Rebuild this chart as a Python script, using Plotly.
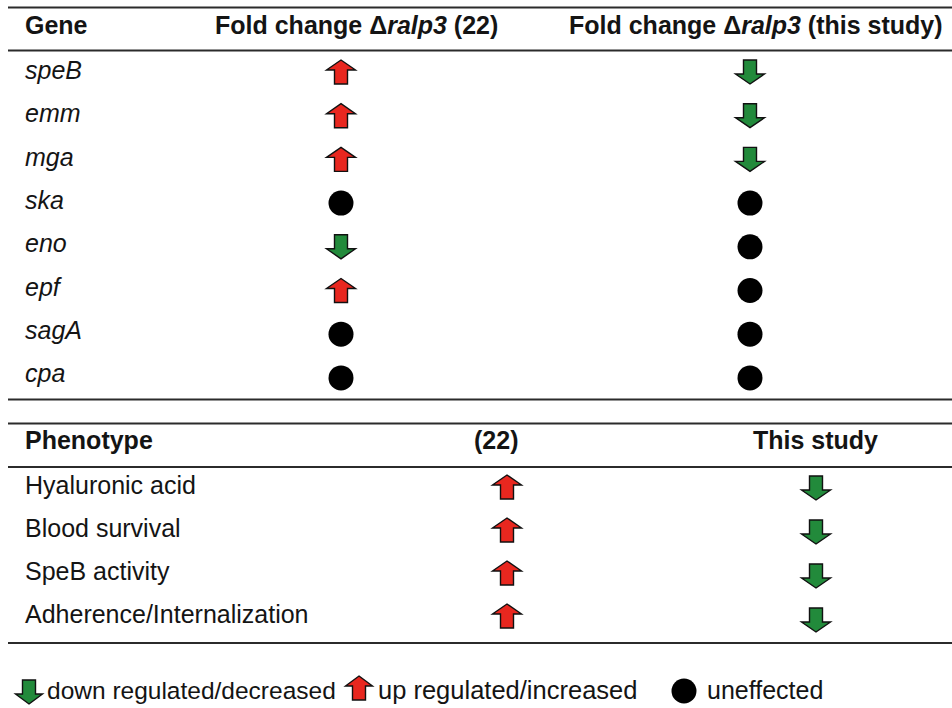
import plotly.graph_objects as go

# ---------------- data ----------------
genes = ["speB", "emm", "mga", "ska", "eno", "epf", "sagA", "cpa"]
gene_ref22 = ["up", "up", "up", "none", "down", "up", "none", "none"]
gene_this = ["down", "down", "down", "none", "none", "none", "none", "none"]

phenotypes = ["Hyaluronic acid", "Blood survival", "SpeB activity", "Adherence/Internalization"]
pheno_ref22 = ["up", "up", "up", "up"]
pheno_this = ["down", "down", "down", "down"]

gene_headers = ["Gene", "Fold change Δ<i>ralp3</i> (22)", "Fold change Δ<i>ralp3</i> (this study)"]
pheno_headers = ["Phenotype", "(22)", "This study"]
legend_labels = ["down regulated/decreased", "up regulated/increased", "uneffected"]

# ---------------- style ----------------
W, H = 952, 708
FONT = "Liberation Sans, Arial, Helvetica, sans-serif"
TXT = "#141414"
RED = "#e8271f"
GREEN = "#228a3b"
LINE = "#2b2b2b"

fig = go.Figure()
shapes = []
annotations = []


def arrow_path(cx, cy, direction, w=29, h=24, stem=13, head=10):
    s = -1 if direction == "up" else 1
    tip = cy + s * h / 2
    base = cy + s * (h / 2 - head)
    tail = cy - s * h / 2
    pts = [(cx, tip), (cx + w / 2, base), (cx + stem / 2, base), (cx + stem / 2, tail),
           (cx - stem / 2, tail), (cx - stem / 2, base), (cx - w / 2, base)]
    return "M " + " L ".join(f"{x:.1f},{y:.1f}" for x, y in pts) + " Z"


dots_x, dots_y = [], []


def add_mark(kind, cx, cy, w=29):
    if kind == "none":
        dots_x.append(cx)
        dots_y.append(cy)
    else:
        shapes.append(dict(type="path", xref="x", yref="y", path=arrow_path(cx, cy, kind, w=w),
                           fillcolor=RED if kind == "up" else GREEN,
                           line=dict(color="#111111", width=1.4)))


def hline(y, x0=8, x1=952):
    shapes.append(dict(type="line", xref="x", yref="y", x0=x0, x1=x1, y0=y, y1=y,
                       line=dict(color=LINE, width=2)))


def text(x, y, s, anchor="left", bold=False, italic=False, size=25):
    if italic:
        s = f"<i>{s}</i>"
    if bold:
        s = f"<b>{s}</b>"
    annotations.append(dict(x=x, y=y, xref="x", yref="y", text=s, showarrow=False,
                            xanchor=anchor, yanchor="middle",
                            font=dict(family=FONT, size=size, color=TXT)))


# ---------------- gene table ----------------
hline(7.5)
hline(50.5)
hline(399.5)
text(23, 25, gene_headers[0], bold=True)
text(356, 25, gene_headers[1], anchor="center", bold=True)
text(756, 25, gene_headers[2], anchor="center", bold=True)

for i, g in enumerate(genes):
    ly = 70 + i * 43.3
    my = 72 + i * 43.7
    text(23, ly, g, italic=True)
    add_mark(gene_ref22[i], 341, my)
    add_mark(gene_this[i], 750, my)

# ---------------- phenotype table ----------------
hline(423.5)
hline(467)
hline(643)
text(23, 440, pheno_headers[0], bold=True)
text(496, 440, pheno_headers[1], anchor="center", bold=True)
text(815, 440, pheno_headers[2], anchor="center", bold=True)

for i, p in enumerate(phenotypes):
    ly = 485 + i * 43
    text(23, ly, p)
    add_mark(pheno_ref22[i], 507, 487 + i * 43)
    add_mark(pheno_this[i], 816, 488 + i * 44)

# ---------------- legend ----------------
add_mark("down", 29, 692, w=27)
text(45, 690, legend_labels[0], size=24.5)
add_mark("up", 359, 688, w=27)
text(376, 690, legend_labels[1], size=25.5)
add_mark("none", 684, 691)
text(705, 690, legend_labels[2], size=25)

fig.add_trace(go.Scatter(x=dots_x, y=dots_y, mode="markers",
                         marker=dict(symbol="circle", size=25, color="#000000"),
                         hoverinfo="skip", showlegend=False))

fig.update_layout(
    width=W, height=H,
    margin=dict(l=0, r=0, t=0, b=0),
    paper_bgcolor="white", plot_bgcolor="white",
    xaxis=dict(range=[0, W], visible=False, fixedrange=True),
    yaxis=dict(range=[H, 0], visible=False, fixedrange=True),
    shapes=shapes, annotations=annotations, showlegend=False,
)

fig.write_html(
    "out.html",
    config={"displayModeBar": False},
    post_script="document.body.style.margin='0';document.body.style.overflow='hidden';",
)
